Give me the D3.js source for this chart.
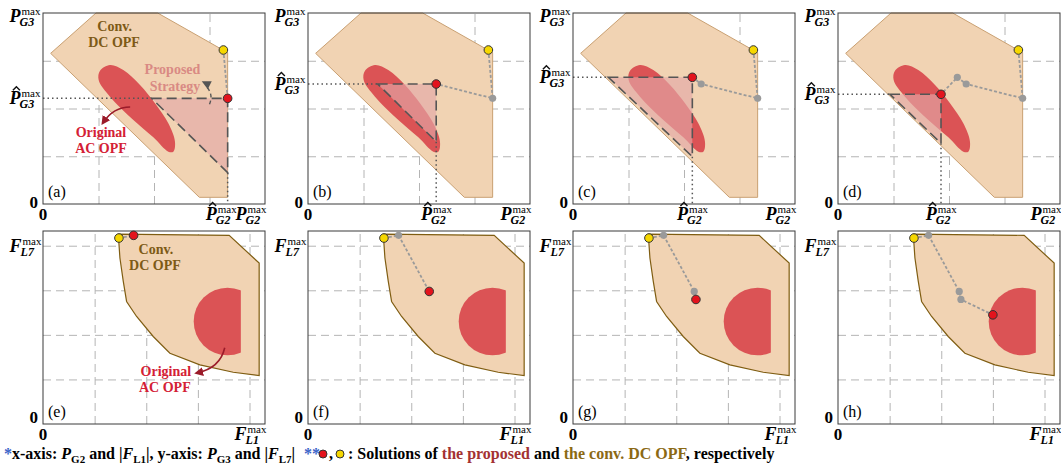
<!DOCTYPE html>
<html>
<head>
<meta charset="utf-8">
<script src="https://cdn.jsdelivr.net/npm/d3@7"></script>
<style>
body{margin:0;background:#fff}
svg{display:block}
</style>
</head>
<body>
<script>
const SERIF = "\"Liberation Serif\", \"Times New Roman\", serif";

// panel tags, grid ticks
const tagsTop = ["(a)", "(b)", "(c)", "(d)"];
const tagsBottom = ["(e)", "(f)", "(g)", "(h)"];
const gridTop = [1, 2, 3];
const gridBottom = [1, 2, 3, 4];

// top row: P_G2 (x) vs P_G3 (y), units of one grid step
const dcRegionTop = [[0.955, 4.0], [2.066, 4.0], [3.327, 3.169], [3.327, 0.14], [2.817, 0.14], [0.138, 3.155]];
const acRegionTop = [[1.207, 2.911], [1.027, 2.792], [1.003, 2.597], [1.207, 2.248], [1.628, 1.759], [1.988, 1.396],
  [2.258, 1.096], [2.348, 1.096], [2.378, 1.305], [2.258, 1.689], [2.018, 2.108], [1.748, 2.492], [1.447, 2.806]];
const dcSolutionTop = [3.25, 3.225];
const proposedTop = [[3.327, 2.213], [2.31, 2.513], [2.15, 2.653], [1.856, 2.297]];
const triangleLeftTop = [1.958, 1.255, 0.637, 0.937];
const triangleBottomTop = [0.656, 1.305, 0.991, 1.27];

// bottom row: |F_L1| (x) vs |F_L7| (y)
const dcRegionBottom = [[1.458, 4.262], [1.49, 3.723], [1.555, 3.199], [1.619, 2.749], [1.813, 2.412], [2.135, 1.963],
  [2.458, 1.588], [3.039, 1.326], [3.684, 1.161], [4.187, 1.086], [4.187, 3.61], [3.606, 4.232]];
const acDiskBottom = [3.574, 2.30, 0.655, 3.832]; // centre x, centre y, radius, cut x
const dcSolutionBottom = [1.471, 4.172];
const proposedBottom = [[1.755, 4.232], [2.348, 2.974], [2.381, 2.794], [3.0, 2.449]];

const C = {
  dc: "#f1d3b3", dcEdgeTop: "#c9a072", dcEdgeBottom: "#7f5d12", ac: "#db5355",
  tri: "#e3a8a8", red: "#e3131d", yellow: "#f6d700", gray: "#9a9a9a",
  brown: "#7d5a16", crimson: "#d42035", rose: "#d98a84", blue: "#3a63c8",
};

const svg = d3.select("body").append("svg").attr("width", 1061).attr("height", 463)
  .style("font-family", SERIF);
const defs = svg.append("defs");
defs.append("marker").attr("id", "head").attr("viewBox", "0 0 10 10").attr("refX", 7).attr("refY", 5)
  .attr("markerWidth", 9).attr("markerHeight", 9).attr("markerUnits", "userSpaceOnUse").attr("orient", "auto")
  .append("path").attr("d", "M0,0L10,5L0,10z").attr("fill", "#9b1b2a");

function txt(parent) {
  return parent.append("text").style("font-family", SERIF);
}

function grid(g, x, y, tx, ty) {
  const h = y.range()[0] - y.range()[1], w = x.range()[1] - x.range()[0];
  const gx = g.append("g").attr("transform", `translate(0,${y.range()[0]})`)
    .call(d3.axisBottom(x).tickValues(tx).tickSize(-h).tickSizeOuter(0).tickFormat(""));
  const gy = g.append("g").attr("transform", `translate(${x.range()[0]},0)`)
    .call(d3.axisLeft(y).tickValues(ty).tickSize(-w).tickSizeOuter(0).tickFormat(""));
  [gx, gy].forEach((a) => {
    a.select(".domain").remove();
    a.selectAll("line").attr("stroke", "#b4b4b4").attr("stroke-dasharray", "8,5");
  });
}

function frame(g, x, y) {
  g.append("rect").attr("x", x.range()[0]).attr("y", y.range()[1])
    .attr("width", x.range()[1] - x.range()[0]).attr("height", y.range()[0] - y.range()[1])
    .attr("fill", "none").attr("stroke", "#3a3a3a").attr("stroke-width", 1);
}

function mathLabel(g, px, py, main, sub, anchor, hat) {
  const grp = g.append("g");
  const t = txt(grp).attr("font-size", 18).attr("font-weight", "bold").attr("font-style", "italic").text(main);
  const w = t.node().getComputedTextLength();
  txt(grp).attr("x", w + 1).attr("y", -7).attr("font-size", 11).text("max");
  txt(grp).attr("x", w - 1).attr("y", 4).attr("font-size", 12).attr("font-weight", "bold").attr("font-style", "italic").text(sub);
  if (hat) {
    const hc = w * 0.62;
    grp.append("path").attr("d", `M${hc - 3.5},-14L${hc},-17.5L${hc + 3.5},-14`)
      .attr("fill", "none").attr("stroke", "#111").attr("stroke-width", 1.4);
  }
  const bb = grp.node().getBBox();
  const dx = anchor === "end" ? -(bb.x + bb.width) : anchor === "middle" ? -(bb.x + bb.width / 2) : 0;
  grp.attr("transform", `translate(${px + dx},${py})`);
}

function plainText(g, px, py, s, size, anchor, extra) {
  const t = txt(g).attr("x", px).attr("y", py).attr("font-size", size).attr("text-anchor", anchor).text(s);
  if (extra) extra(t);
  return t;
}

function solutions(g, x, y, start, iterates, k) {
  const pts = [start, ...iterates.slice(0, k + 1)];
  g.append("path").attr("d", d3.line().x((d) => x(d[0])).y((d) => y(d[1]))(pts))
    .attr("fill", "none").attr("stroke", C.gray).attr("stroke-width", 1.8).attr("stroke-dasharray", "3,2");
  g.selectAll("circle.iter").data(iterates.slice(0, k)).join("circle").attr("class", "iter")
    .attr("cx", (d) => x(d[0])).attr("cy", (d) => y(d[1])).attr("r", 3.6).attr("fill", C.gray);
  g.append("circle").attr("cx", x(start[0])).attr("cy", y(start[1])).attr("r", 4.3)
    .attr("fill", C.yellow).attr("stroke", "#333").attr("stroke-width", 1);
  g.append("circle").attr("cx", x(iterates[k][0])).attr("cy", y(iterates[k][1])).attr("r", 4.3)
    .attr("fill", C.red).attr("stroke", "#333").attr("stroke-width", 1);
}

const boldLabel = (color) => (t) => t.attr("font-weight", "bold").attr("fill", color);

// ---------- top row ----------
tagsTop.forEach((tag, k) => {
  const g = svg.append("g").attr("transform", `translate(${k * 265},0)`);
  const x = d3.scaleLinear().domain([0, 4]).range([43, 265]);
  const y = d3.scaleLinear().domain([0, 4]).range([204, 13]);
  grid(g, x, y, gridTop, gridTop);
  g.append("path").attr("d", d3.line().x((d) => x(d[0])).y((d) => y(d[1])).curve(d3.curveLinearClosed)(dcRegionTop))
    .attr("fill", C.dc).attr("stroke", C.dcEdgeTop).attr("stroke-width", 1);
  g.append("path").attr("d", d3.line().x((d) => x(d[0])).y((d) => y(d[1])).curve(d3.curveCatmullRomClosed)(acRegionTop))
    .attr("fill", C.ac);
  const red = proposedTop[k];
  const tri = [[triangleLeftTop[k], red[1]], red, [red[0], triangleBottomTop[k]]];
  const tl = d3.line().x((d) => x(d[0])).y((d) => y(d[1])).curve(d3.curveLinearClosed);
  g.append("path").attr("d", tl(tri)).attr("fill", C.tri).attr("fill-opacity", 0.65);
  g.append("path").attr("d", tl(tri)).attr("fill", "none").attr("stroke", "#555")
    .attr("stroke-width", 1.6).attr("stroke-dasharray", "10,5");
  const dotted = d3.line().x((d) => x(d[0])).y((d) => y(d[1]));
  [[[0, red[1]], tri[0]], [tri[2], [red[0], 0]]].forEach((seg) => {
    g.append("path").attr("d", dotted(seg)).attr("stroke", "#555").attr("stroke-width", 1.5)
      .attr("stroke-dasharray", "1.5,3").attr("fill", "none");
  });
  frame(g, x, y);
  solutions(g, x, y, dcSolutionTop, proposedTop, k);

  mathLabel(g, 41, y(4) + 9, "P", "G3", "end", false);
  mathLabel(g, 41, y(red[1]) + 6, "P", "G3", "end", true);
  mathLabel(g, 267, 220, "P", "G2", "end", false);
  mathLabel(g, Math.min(x(red[0]), 221), 220, "P", "G2", "middle", true);
  plainText(g, 38, 208, "0", 17, "end", (t) => t.attr("font-weight", "bold"));
  plainText(g, 43, 220, "0", 17, "middle", (t) => t.attr("font-weight", "bold"));
  plainText(g, 48, 197, tag, 16, "start");

  if (k === 0) {
    plainText(g, x(1.29), y(3.63), "Conv.", 14, "middle", boldLabel(C.brown));
    plainText(g, x(1.28), y(3.28), "DC OPF", 14, "middle", boldLabel(C.brown));
    plainText(g, x(2.333), y(2.72), "Proposed", 14, "middle", boldLabel(C.rose));
    plainText(g, x(2.378), y(2.373), "Strategy", 14, "middle", boldLabel(C.rose));
    plainText(g, x(1.045), y(1.397), "Original", 14, "middle", boldLabel(C.crimson));
    plainText(g, x(1.045), y(1.074), "AC OPF", 14, "middle", boldLabel(C.crimson));
    const p = d3.path();
    p.moveTo(x(1.57), y(2.03)); p.quadraticCurveTo(x(1.27), y(2.03), x(1.08), y(1.70));
    g.append("path").attr("d", p.toString()).attr("fill", "none").attr("stroke", "#9b1b2a")
      .attr("stroke-width", 1.6).attr("marker-end", "url(#head)");
    const q = d3.path();
    q.moveTo(x(2.96), y(2.44)); q.quadraticCurveTo(x(3.07), y(2.28), x(3.0), y(2.09));
    g.append("path").attr("d", q.toString()).attr("fill", "none").attr("stroke", "#555")
      .attr("stroke-width", 1.4).attr("stroke-dasharray", "4,3");
    const hx = x(2.95), hy = y(2.51);
    g.append("path").attr("d", `M${hx - 5},${hy - 3}L${hx + 5},${hy - 3}L${hx + 1},${hy + 5}Z`).attr("fill", "#555");
  }
});

// ---------- bottom row ----------
tagsBottom.forEach((tag, k) => {
  const g = svg.append("g").attr("transform", `translate(${k * 265},0)`);
  const x = d3.scaleLinear().domain([0, 4.3]).range([43, 265]);
  const y = d3.scaleLinear().domain([0, 4.33]).range([424, 231]);
  grid(g, x, y, gridBottom, gridBottom);
  g.append("path").attr("d", d3.line().x((d) => x(d[0])).y((d) => y(d[1])).curve(d3.curveLinearClosed)(dcRegionBottom))
    .attr("fill", C.dc).attr("stroke", C.dcEdgeBottom).attr("stroke-width", 1.2);
  const [cx, cy, r, cut] = acDiskBottom;
  const clipId = `cut${k}`;
  g.append("clipPath").attr("id", clipId).append("rect")
    .attr("x", x(cx - r - 0.2)).attr("y", y(4.3)).attr("width", x(cut) - x(cx - r - 0.2)).attr("height", y(0) - y(4.3));
  g.append("circle").attr("cx", x(cx)).attr("cy", y(cy)).attr("r", x(r) - x(0))
    .attr("fill", C.ac).attr("clip-path", `url(#${clipId})`);
  frame(g, x, y);
  solutions(g, x, y, dcSolutionBottom, proposedBottom, k);

  mathLabel(g, 42, y(4) + 6, "F", "L7", "end", false);
  mathLabel(g, 267, 440, "F", "L1", "end", false);
  plainText(g, 38, 423, "0", 17, "end", (t) => t.attr("font-weight", "bold"));
  plainText(g, 43, 440, "0", 17, "middle", (t) => t.attr("font-weight", "bold"));
  plainText(g, 48, 417, tag, 16, "start");

  if (k === 0) {
    plainText(g, x(2.187), y(3.813), "Conv.", 14, "middle", boldLabel(C.brown));
    plainText(g, x(2.168), y(3.445), "DC OPF", 14, "middle", boldLabel(C.brown));
    plainText(g, x(2.38), y(1.085), "Original", 14, "middle", boldLabel(C.crimson));
    plainText(g, x(2.36), y(0.726), "AC OPF", 14, "middle", boldLabel(C.crimson));
    const p = d3.path();
    p.moveTo(x(3.52), y(1.71)); p.quadraticCurveTo(x(3.43), y(1.25), x(2.98), y(1.146));
    g.append("path").attr("d", p.toString()).attr("fill", "none").attr("stroke", "#9b1b2a")
      .attr("stroke-width", 1.6).attr("marker-end", "url(#head)");
  }
});

// ---------- footnote ----------
function runs(parent, px, py, parts) {
  const t = txt(parent).attr("x", px).attr("y", py).attr("font-size", 16).attr("font-weight", "bold");
  let lowered = false;
  parts.forEach((p) => {
    const s = t.append("tspan").text(p.t);
    if (p.sub) { s.attr("font-size", 11).attr("dy", 3.5); lowered = true; }
    else if (lowered) { s.attr("dy", -3.5); lowered = false; }
    if (p.it) s.attr("font-style", "italic");
    if (p.fill) s.attr("fill", p.fill);
  });
  return t;
}
runs(svg, 4, 459, [
  { t: "*", fill: C.blue }, { t: "x-axis: " }, { t: "P", it: true }, { t: "G2", sub: true }, { t: " and |" },
  { t: "F", it: true }, { t: "L1", sub: true }, { t: "|, y-axis: " }, { t: "P", it: true }, { t: "G3", sub: true },
  { t: " and |" }, { t: "F", it: true }, { t: "L7", sub: true }, { t: "|" },
]);
runs(svg, 304, 459, [{ t: "**", fill: C.blue }]);
svg.append("circle").attr("cx", 323).attr("cy", 454).attr("r", 4).attr("fill", C.red).attr("stroke", "#333");
runs(svg, 329, 459, [{ t: "," }]);
svg.append("circle").attr("cx", 340).attr("cy", 454).attr("r", 4).attr("fill", C.yellow).attr("stroke", "#333");
runs(svg, 348, 459, [
  { t: ": Solutions of " }, { t: "the proposed", fill: "#a33232" }, { t: " and " },
  { t: "the conv. DC OPF", fill: "#8b6914" }, { t: ", respectively" },
]);
</script>
</body>
</html>
